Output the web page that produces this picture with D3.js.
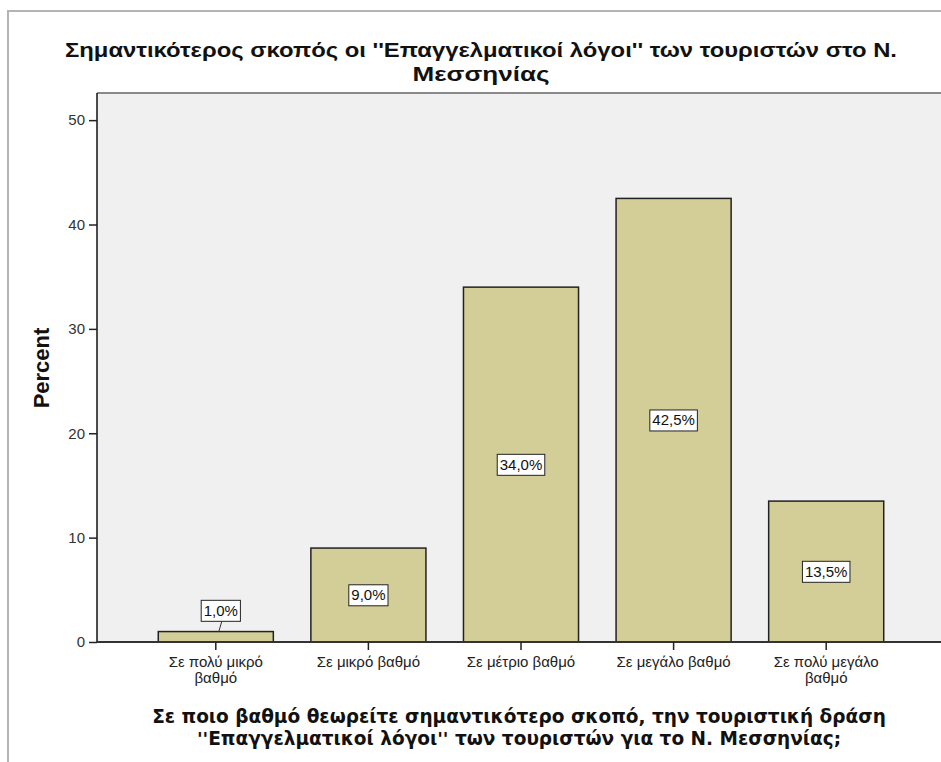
<!DOCTYPE html>
<html><head><meta charset="utf-8">
<script src="https://cdn.jsdelivr.net/npm/d3@7"></script>
<style>body{margin:0;background:#fff;} svg{display:block;}</style>
</head><body>
<script>
const categories = [["Σε πολύ μικρό","βαθμό"],["Σε μικρό βαθμό"],["Σε μέτριο βαθμό"],["Σε μεγάλο βαθμό"],["Σε πολύ μεγάλο","βαθμό"]];
const values = [1.0, 9.0, 34.0, 42.5, 13.5];
const labels = ["1,0%","9,0%","34,0%","42,5%","13,5%"];
const yTicks = [0,10,20,30,40,50];
const titleLines = ["Σημαντικότερος σκοπός οι ''Επαγγελματικοί λόγοι'' των τουριστών στο Ν.","Μεσσηνίας"];
const xTitleLines = ["Σε ποιο βαθμό θεωρείτε σημαντικότερο σκοπό, την τουριστική δράση","''Επαγγελματικοί λόγοι'' των τουριστών για το Ν. Μεσσηνίας;"];
const yTitle = "Percent";

const W = 941, H = 762;
const svg = d3.select("body").append("svg").attr("width", W).attr("height", H);
const font = "'Liberation Sans', Arial, sans-serif";

// outer frame
svg.append("rect").attr("x", 8).attr("y", 11).attr("width", 960).attr("height", 800)
  .attr("fill", "none").attr("stroke", "#b4b4b4").attr("stroke-width", 2);

const plot = {left: 97, top: 93, right: 960, bottom: 642};
const y = d3.scaleLinear().domain([0, 52.6]).range([plot.bottom, plot.top]);
const x = d3.scaleBand().domain(d3.range(values.length)).range([139.5, 902.5])
  .paddingInner(0.246).paddingOuter(0.123);

svg.append("rect").attr("x", plot.left).attr("y", plot.top)
  .attr("width", plot.right - plot.left).attr("height", plot.bottom - plot.top)
  .attr("fill", "#f0f0f0");
svg.append("line").attr("x1", plot.left).attr("x2", plot.right).attr("y1", plot.top).attr("y2", plot.top)
  .attr("stroke", "#8a8a8a").attr("stroke-width", 2);

// bars
svg.append("g").selectAll("rect").data(values).join("rect")
  .attr("x", (d,i) => x(i)).attr("width", x.bandwidth())
  .attr("y", d => y(d)).attr("height", d => y(0) - y(d))
  .attr("fill", "#d3ce97").attr("stroke", "#222").attr("stroke-width", 1.5);

// y axis
const yAxis = svg.append("g").attr("transform", `translate(${plot.left},0)`)
  .call(d3.axisLeft(y).tickValues(yTicks).tickSize(8).tickPadding(4).tickFormat(d3.format("d")));
yAxis.select(".domain").attr("stroke", "#111").attr("stroke-width", 1.5).attr("d", `M0,${plot.top}V${plot.bottom}`);
yAxis.selectAll(".tick line").attr("stroke", "#222").attr("stroke-width", 1.5);
yAxis.selectAll(".tick text").attr("font-family", font).attr("font-size", 15).attr("fill", "#333");

// x axis
const xAxis = svg.append("g").attr("transform", `translate(0,${plot.bottom})`)
  .call(d3.axisBottom(x).tickSize(8).tickFormat(""));
xAxis.select(".domain").attr("stroke", "#333").attr("stroke-width", 2).attr("d", `M${plot.left},0H${plot.right}`);
xAxis.selectAll(".tick line").attr("stroke", "#222").attr("stroke-width", 1.5);
xAxis.selectAll(".tick").each(function(d) {
  const t = d3.select(this).select("text").text(null)
    .attr("font-family", font).attr("font-size", 15).attr("fill", "#222").attr("y", 0).attr("dy", null);
  categories[d].forEach((s, k) => t.append("tspan").attr("x", 0).attr("y", 25 + k * 16).text(s));
});

// data labels
const lg = svg.append("g");
values.forEach((v, i) => {
  const cx = x(i) + x.bandwidth() / 2;
  const barH = y(0) - y(v);
  const small = barH < 30;
  const cy = small ? y(v) - 21 : (y(0) + y(v)) / 2;
  const lx = small ? cx + 5 : cx;
  const t = lg.append("text").attr("x", lx).attr("y", cy).attr("dy", "0.35em")
    .attr("text-anchor", "middle").attr("font-family", font).attr("font-size", 15).attr("fill", "#111")
    .text(labels[i]);
  const bb = t.node().getBBox();
  const pw = 2.5, ph = 2.5;
  if (small) {
    lg.insert("line", "text").attr("x1", lx + 1).attr("y1", bb.y + bb.height + ph).attr("x2", lx - 2).attr("y2", y(v))
      .attr("stroke", "#333").attr("stroke-width", 1);
  }
  lg.insert("rect", "text").attr("x", bb.x - pw).attr("y", bb.y - ph + 1)
    .attr("width", bb.width + 2 * pw).attr("height", bb.height + 2 * ph - 1)
    .attr("fill", "#fff").attr("stroke", "#222").attr("stroke-width", 1);
});

// title
svg.append("text").attr("x", 481).attr("y", 57).attr("text-anchor", "middle")
  .attr("font-family", font).attr("font-weight", "bold").attr("font-size", 21).attr("fill", "#111")
  .attr("textLength", 832).attr("lengthAdjust", "spacingAndGlyphs").text(titleLines[0]);
svg.append("text").attr("x", 481).attr("y", 81).attr("text-anchor", "middle")
  .attr("font-family", font).attr("font-weight", "bold").attr("font-size", 21).attr("fill", "#111")
  .attr("textLength", 137).attr("lengthAdjust", "spacingAndGlyphs").text(titleLines[1]);

// y title
svg.append("text").attr("transform", "translate(49,368) rotate(-90)").attr("text-anchor", "middle")
  .attr("font-family", font).attr("font-weight", "bold").attr("font-size", 22).attr("fill", "#111").text(yTitle);

// x title
function fit(sel, target) {
  const fs = +sel.attr("font-size");
  const w = sel.node().getComputedTextLength();
  sel.attr("font-size", (fs * target / w).toFixed(2));
}
const xf = "'DejaVu Sans', Verdana, sans-serif";
const x1 = svg.append("text").attr("x", 519).attr("y", 723).attr("text-anchor", "middle")
  .attr("font-family", xf).attr("font-weight", "bold").attr("font-size", 16).attr("fill", "#111").text(xTitleLines[0]);
fit(x1, 734);
svg.append("text").attr("x", 519).attr("y", 745).attr("text-anchor", "middle")
  .attr("font-family", xf).attr("font-weight", "bold").attr("font-size", x1.attr("font-size")).attr("fill", "#111").text(xTitleLines[1]);
</script>
</body></html>
